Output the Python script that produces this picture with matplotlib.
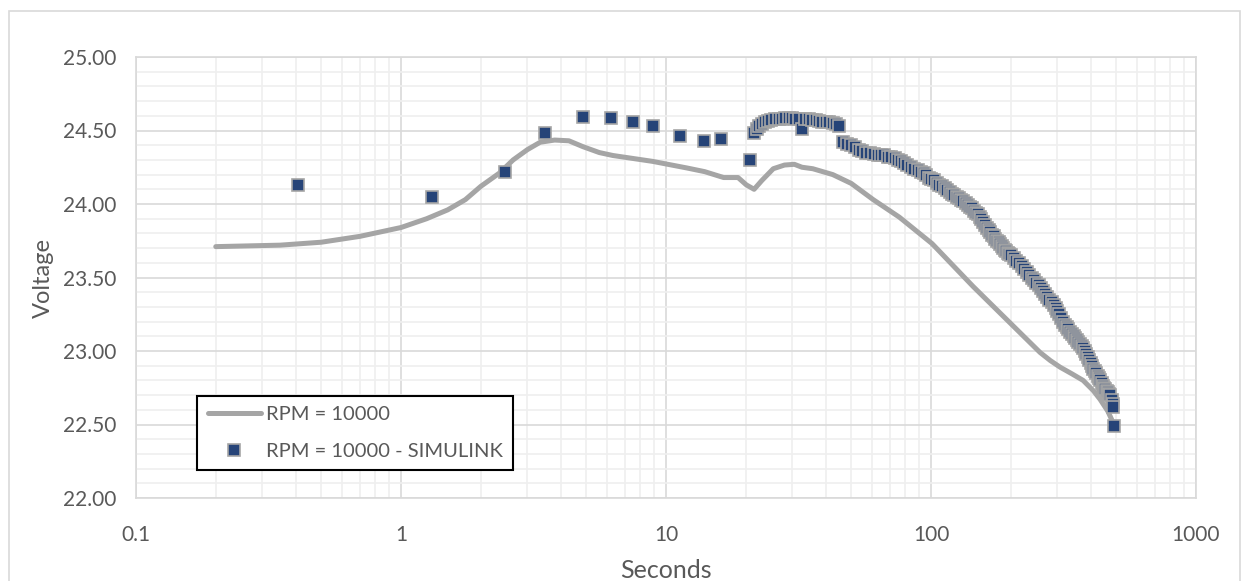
import matplotlib
matplotlib.use("Agg")
import matplotlib.pyplot as plt
from matplotlib.ticker import FixedLocator, FormatStrFormatter, LogLocator, NullFormatter, FuncFormatter
from matplotlib.patches import Rectangle

# ---- data: measured curve (RPM = 10000) ----
line_t = [0.2, 0.35, 0.5, 0.7, 1.0, 1.25, 1.5, 1.75, 2.0, 2.35, 2.65, 3.0, 3.35, 3.8, 4.3,
          4.86, 5.6, 6.3, 8.9, 12.0, 14.0, 16.5, 18.7, 20.1, 21.5, 23.0, 25.4, 28.0, 30.5,
          32.6, 35.8, 42.6, 50, 60.5, 76, 101, 144, 194, 258, 282, 307, 340, 375, 410, 435,
          465, 490]
line_v = [23.71, 23.72, 23.74, 23.78, 23.84, 23.90, 23.96, 24.03, 24.12, 24.21, 24.30, 24.37,
          24.42, 24.435, 24.43, 24.39, 24.35, 24.33, 24.29, 24.245, 24.22, 24.18, 24.18, 24.13,
          24.10, 24.16, 24.24, 24.265, 24.27, 24.25, 24.24, 24.20, 24.14, 24.03, 23.91, 23.73,
          23.44, 23.21, 22.99, 22.935, 22.89, 22.845, 22.80, 22.73, 22.67, 22.59, 22.50]

# ---- data: SIMULINK points ----
sim_t = [0.41, 1.31, 2.47, 3.49, 4.86, 6.2, 7.5, 8.93, 11.3, 13.9, 16.1, 20.7,
         21.5, 22.0, 22.5, 23.0, 23.6, 24.3, 25.0, 25.8, 26.6, 27.4, 28.2, 29.0, 29.9, 30.8,
         31.7, 32.6, 33.6, 34.6, 35.6, 36.7, 37.8, 38.9, 40.1, 41.3, 42.5, 43.8, 45.0,
         46.5, 48.0, 49.7, 51.5, 53.3, 55.1, 57.0, 58.9, 60.9, 62.9, 64.7, 66.5, 68.6, 70.7,
         73.0, 75.2, 77.0, 78.9, 81.4, 83.9, 86.5, 89.2, 91.7, 94.1, 96.0, 98.3,
         100, 102.5, 105, 107.5, 110, 112.5, 115, 117.5, 120, 122.5, 125, 127.5, 130, 132.5,
         135, 137.5, 140, 142.5, 145, 147.5, 150, 152.5, 155, 157.5, 160, 162.5, 165, 167.5,
         170, 172.5, 175, 177.5, 180, 182.5, 185, 187.5, 190, 192.5, 195, 197.5, 200,
         205, 210, 215, 220, 225, 230, 235, 240, 245, 250, 255,
         260, 265, 270, 275, 280, 285, 290, 295, 300, 305, 310, 315, 320, 325, 330, 335,
         340, 345, 350, 355, 360, 365, 370, 375, 380, 385, 390, 395, 400, 405, 410, 415,
         420, 425, 430, 435, 440, 445, 450, 455, 460, 465, 470, 475, 480, 485, 488, 490]
sim_v = [24.13, 24.05, 24.22, 24.48, 24.59, 24.585, 24.56, 24.53, 24.46, 24.43, 24.44, 24.30,
         24.48, 24.51, 24.53, 24.545, 24.555, 24.565, 24.57, 24.575, 24.58, 24.58, 24.585,
         24.585, 24.585, 24.58, 24.58, 24.51, 24.575, 24.575, 24.57, 24.57, 24.565, 24.56,
         24.56, 24.555, 24.55, 24.545, 24.53,
         24.42, 24.41, 24.40, 24.39, 24.37, 24.36, 24.35, 24.35, 24.34, 24.33, 24.33, 24.33,
         24.32, 24.32, 24.31, 24.30, 24.29, 24.28, 24.265, 24.25, 24.24, 24.23, 24.22, 24.21,
         24.20, 24.18,
         24.17, 24.16, 24.145, 24.13, 24.12, 24.11, 24.095, 24.08, 24.07, 24.06, 24.05, 24.04,
         24.03, 24.02, 24.005, 23.99, 23.98, 23.97, 23.955, 23.94, 23.93, 23.91, 23.895, 23.88,
         23.86, 23.84, 23.825, 23.81, 23.79, 23.78, 23.765, 23.75, 23.74, 23.73, 23.715, 23.70,
         23.69, 23.68, 23.67, 23.66, 23.65,
         23.635, 23.615, 23.60, 23.58, 23.56, 23.54, 23.52, 23.50, 23.48, 23.46, 23.45, 23.43,
         23.41, 23.39, 23.37, 23.35, 23.33, 23.31, 23.29, 23.27, 23.25, 23.225, 23.20, 23.18,
         23.165, 23.15, 23.13, 23.115, 23.10, 23.09, 23.075, 23.06, 23.05, 23.035, 23.02, 23.00,
         22.98, 22.96, 22.94, 22.92, 22.90, 22.88, 22.865, 22.85, 22.83, 22.815, 22.80, 22.78,
         22.765, 22.75, 22.74, 22.73, 22.72, 22.71, 22.70, 22.67, 22.64, 22.62, 22.49]

x_ticks = [0.1, 1, 10, 100, 1000]
x_labels = ["0.1", "1", "10", "100", "1000"]
y_ticks = [22.0, 22.5, 23.0, 23.5, 24.0, 24.5, 25.0]

plt.rcParams['font.family'] = ['Lato', 'DejaVu Sans']

fig = plt.figure(figsize=(12.46, 5.81), dpi=100)
ax = fig.add_axes([136/1246, 83/581, 1060/1246, 441/581])

# outer chart border
fig.patches.append(Rectangle((9/1246, -0.01), 1231/1246, (581-11)/581 + 0.01,
                             transform=fig.transFigure, fill=False,
                             edgecolor='#d9d9d9', linewidth=1.2))

ax.set_xscale('log')
ax.set_xlim(0.1, 1000)
ax.set_ylim(22.0, 25.0)

ax.plot(line_t, line_v, color='#a5a5a5', linewidth=3.6, solid_capstyle='round',
        solid_joinstyle='round', label='RPM = 10000', zorder=3)
ax.plot(sim_t, sim_v, linestyle='none', marker='s', markersize=9.2,
        markerfacecolor='#264478', markeredgecolor='#a5a5a5', markeredgewidth=1.2,
        label='RPM = 10000 - SIMULINK', zorder=4)

ax.xaxis.set_major_locator(FixedLocator(x_ticks))
ax.xaxis.set_major_formatter(FuncFormatter(lambda v, p: x_labels[x_ticks.index(v)] if v in x_ticks else ""))
ax.xaxis.set_minor_locator(LogLocator(base=10, subs=[2, 3, 4, 5, 6, 7, 8, 9]))
ax.xaxis.set_minor_formatter(NullFormatter())
ax.yaxis.set_major_locator(FixedLocator(y_ticks))
ax.yaxis.set_minor_locator(FixedLocator([22 + 0.1 * i for i in range(31)]))
ax.yaxis.set_major_formatter(FormatStrFormatter('%.2f'))

ax.grid(True, which='major', color='#d9d9d9', linewidth=1.2, zorder=0)
ax.grid(True, which='minor', color='#efefef', linewidth=1.2, zorder=0)
ax.set_axisbelow(True)
ax.tick_params(which='both', length=0, labelsize=15, colors='#595959')
ax.tick_params(axis='y', pad=14)
ax.tick_params(axis='x', pad=19.5)
for s in ax.spines.values():
    s.set_color('#d9d9d9')
    s.set_linewidth(1.2)

ax.set_xlabel('Seconds', fontsize=18, color='#595959', labelpad=10)
ax.set_ylabel('Voltage', fontsize=17, color='#595959', labelpad=7)

leg = ax.legend(loc='lower left', bbox_to_anchor=(0.058, 0.063), fontsize=14.5,
                frameon=True, fancybox=False, edgecolor='black', framealpha=1,
                handlelength=2.65, handletextpad=0.25, labelspacing=1.0,
                borderpad=0.5, borderaxespad=0)
leg.get_frame().set_linewidth(1.5)
for t in leg.get_texts():
    t.set_color('#595959')

fig.savefig('out.png', dpi=100)
